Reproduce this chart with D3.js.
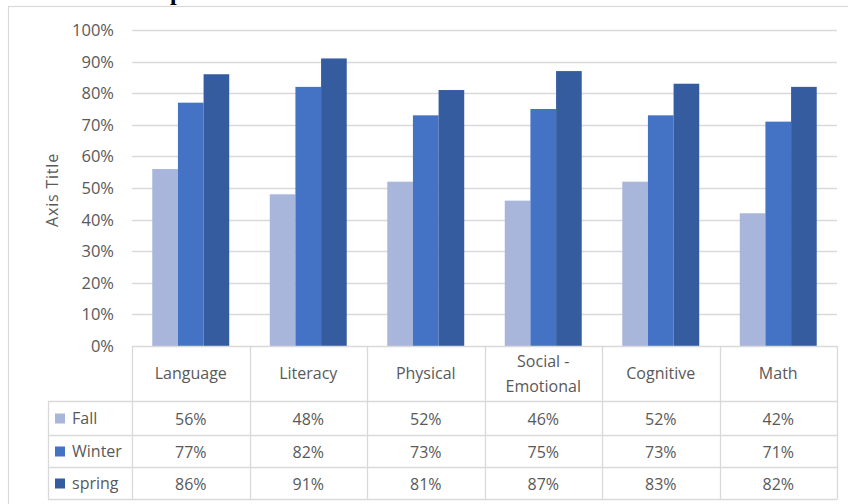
<!DOCTYPE html>
<html>
<head>
<meta charset="utf-8">
<script src="https://cdn.jsdelivr.net/npm/d3@7"></script>
<style>
  html, body { margin: 0; padding: 0; background: #fff; }
  svg { display: block; }
  text { font-family: "Open Sans", "Liberation Sans", sans-serif; fill: #595959; }
</style>
</head>
<body>
<svg id="chart" width="848" height="504"></svg>
<script>
// Assessment results by domain and season
const categories = [["Language"], ["Literacy"], ["Physical"], ["Social -", "Emotional"], ["Cognitive"], ["Math"]];
const seriesNames = ["Fall", "Winter", "spring"];
const fallValues = [56, 48, 52, 46, 52, 42];
const winterValues = [77, 82, 73, 75, 73, 71];
const springValues = [86, 91, 81, 87, 83, 82];
const yTicks = [0, 10, 20, 30, 40, 50, 60, 70, 80, 90, 100];

const seriesValues = [fallValues, winterValues, springValues];
const colors = ["#a8b6dc", "#4472c4", "#345c9f"];
const gridColor = "#d9d9d9";

const svg = d3.select("#chart");

// partially visible heading above the chart frame
svg.append("text")
  .attr("x", 170).attr("y", 0)
  .style("font-family", "'Liberation Serif', serif")
  .style("font-weight", "bold").style("font-size", "24px")
  .style("fill", "#000")
  .text("p");

// chart frame
svg.append("rect")
  .attr("x", 8.5).attr("y", 6.5)
  .attr("width", 860).attr("height", 520)
  .attr("fill", "none").attr("stroke", gridColor).attr("stroke-width", 1.2);

const plot = { left: 132, right: 837, top: 30, bottom: 346 };

const x0 = d3.scaleBand()
  .domain(d3.range(categories.length))
  .range([plot.left, plot.right])
  .padding(0);

const groupWidth = x0.bandwidth() * 0.655;
const x1 = d3.scaleBand()
  .domain(d3.range(seriesNames.length))
  .range([0, groupWidth]);

const y = d3.scaleLinear().domain([0, 100]).range([plot.bottom, plot.top]);

// gridlines
svg.append("g")
  .selectAll("line")
  .data(yTicks.filter(t => t > 0))
  .join("line")
  .attr("x1", plot.left).attr("x2", plot.right)
  .attr("y1", d => Math.round(y(d)) + 0.5).attr("y2", d => Math.round(y(d)) + 0.5)
  .attr("stroke", gridColor).attr("stroke-width", 1.3);

// y axis labels
const yAxis = d3.axisLeft(y)
  .tickValues(yTicks)
  .tickSize(0)
  .tickPadding(0)
  .tickFormat(d => d + "%");
svg.append("g")
  .attr("transform", `translate(114,0)`)
  .call(yAxis)
  .call(g => g.select(".domain").remove())
  .call(g => g.selectAll("text")
    .style("font-size", "16.5px")
    .style("font-family", "'Open Sans', sans-serif")
    .attr("fill", "#595959")
    .attr("dy", "0.33em"));

// axis title
svg.append("text")
  .attr("transform", `translate(58,${(plot.top + plot.bottom) / 2 + 2}) rotate(-90)`)
  .attr("text-anchor", "middle")
  .style("font-size", "16px")
  .style("letter-spacing", "0.8px")
  .text("Axis Title");

// bars
const groups = svg.append("g")
  .selectAll("g")
  .data(categories)
  .join("g")
  .attr("transform", (d, i) => `translate(${x0(i) + (x0.bandwidth() - groupWidth) / 2},0)`);

groups.selectAll("rect")
  .data((d, i) => seriesValues.map((vals, s) => ({ s, v: vals[i] })))
  .join("rect")
  .attr("x", d => x1(d.s))
  .attr("width", x1.bandwidth())
  .attr("y", d => y(d.v))
  .attr("height", d => y(0) - y(d.v))
  .attr("fill", d => colors[d.s]);

// data table
const headerBottom = 401;
const rowBottoms = [435, 467, 499];
const rowTops = [headerBottom, rowBottoms[0], rowBottoms[1]];
const tableLeft = 48;
const table = svg.append("g").attr("stroke", gridColor).attr("stroke-width", 1.3);

// top edge of header (category axis)
table.append("line")
  .attr("x1", plot.left).attr("x2", plot.right)
  .attr("y1", plot.bottom + 0.5).attr("y2", plot.bottom + 0.5);

// horizontal row rules
table.selectAll("line.row")
  .data([headerBottom, ...rowBottoms])
  .join("line")
  .attr("class", "row")
  .attr("x1", tableLeft).attr("x2", plot.right)
  .attr("y1", d => d + 0.5).attr("y2", d => d + 0.5);

// vertical rules at category boundaries
const boundaries = d3.range(categories.length + 1).map(i => i < categories.length ? x0(i) : plot.right);
table.selectAll("line.col")
  .data(boundaries)
  .join("line")
  .attr("class", "col")
  .attr("x1", d => Math.round(d) + 0.5).attr("x2", d => Math.round(d) + 0.5)
  .attr("y1", plot.bottom).attr("y2", rowBottoms[2] + 0.5);

// left edge of legend column
table.append("line")
  .attr("x1", tableLeft + 0.5).attr("x2", tableLeft + 0.5)
  .attr("y1", headerBottom).attr("y2", rowBottoms[2] + 0.5);

// category labels in header
const headerMid = (plot.bottom + headerBottom) / 2;
svg.append("g")
  .selectAll("text")
  .data(categories)
  .join("text")
  .attr("x", (d, i) => x0(i) + x0.bandwidth() / 2)
  .attr("y", d => headerMid - (d.length - 1) * 12.5)
  .attr("text-anchor", "middle")
  .style("font-size", "16px")
  .each(function (d) {
    d3.select(this).selectAll("tspan")
      .data(d)
      .join("tspan")
      .attr("x", d3.select(this).attr("x"))
      .attr("dy", (t, k) => k === 0 ? "0.35em" : "25px")
      .text(t => t);
  });

// legend keys and value cells
seriesNames.forEach((name, s) => {
  const mid = (rowTops[s] + rowBottoms[s]) / 2 + 1;
  svg.append("rect")
    .attr("x", 55).attr("y", mid - 5.5)
    .attr("width", 10).attr("height", 10)
    .attr("fill", colors[s]);
  svg.append("text")
    .attr("x", 72).attr("y", mid - 1)
    .attr("dy", "0.35em")
    .style("font-size", "16px")
    .text(name);
  svg.append("g")
    .selectAll("text")
    .data(seriesValues[s])
    .join("text")
    .attr("x", (d, i) => x0(i) + x0.bandwidth() / 2)
    .attr("y", mid)
    .attr("dy", "0.35em")
    .attr("text-anchor", "middle")
    .style("font-size", "16px")
    .text(d => d + "%");
});
</script>
</body>
</html>
